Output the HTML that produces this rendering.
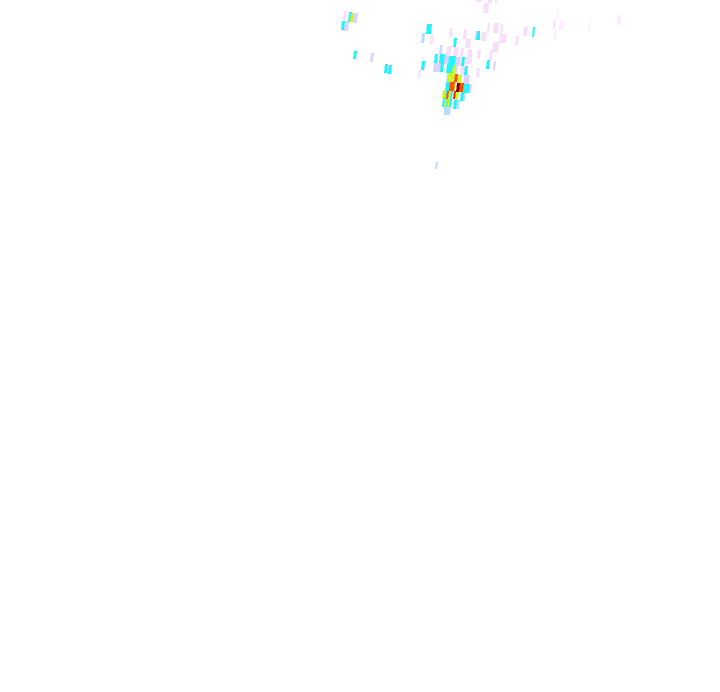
<!DOCTYPE html>
<html>
<head>
<meta charset="utf-8">
<style>
html,body{margin:0;padding:0;background:#fff;width:720px;height:692px;overflow:hidden}
svg{display:block}
</style>
</head>
<body>
<svg width="720" height="692" viewBox="0 0 720 692" xmlns="http://www.w3.org/2000/svg" shape-rendering="crispEdges">
<rect width="720" height="692" fill="#fff"/>
<!-- faint pink -->
<path fill="#fcecfd" d="M617 15h4v10h-4zM589 23h2l-1 9h-2zM557 10h2l-1 9h-2zM555 30h2l-1 9h-2zM560 21h4l-1 9h-4z"/>
<!-- pink -->
<path fill="#f9defc" d="M344 11h3l-1 9h-3z
M431 35h3l-1 9h-3zM450 28h3l-1 9h-3zM464 29h3l-1 10h-3zM466 39h5l-1 9h-5z
M447 46h5l-1 9h-5zM454 47h5l-1 9h-5zM461 48h3l-1 9h-3zM468 49h4l-1 15h-4zM478 50h3l-1 9h-3z
M462 57h6l-1 8h-6zM461 66h5l-1 9h-5zM477 68h3l-1 9h-3zM419 70h2l-1 8h-2z
M484 3h5l-1 10h-5zM488 0h4v3h-4zM495 0h2v3h-2zM476 0h6v2h-6z
M488 23h2l-1 9h-2zM494 23h5l-1 10h-5zM501 24h2l-1 11h-2zM500 34h7l-1 9h-7z
M524 27h4l-1 9h-4zM516 36h3l-1 9h-3zM554 20h2l-1 9h-2z
M475 31h2l-1 9h-2zM482 32h5l-1 9h-5zM493 42h6l-1 10h-6zM490 51h3l-1 9h-3zM478 50h3l-1 9h-3zM470 49h2v14h-2z"/>
<!-- lavender -->
<path fill="#dcd2fb" d="M344 21h5l-1 10h-5zM353 13h5l-1 10h-4zM371 53h3l-1 9h-3zM388 65h2l-1 9h-2zM424 61h2l-1 9h-2z
M477 31h2l-1 9h-2zM440 45h3l-1 9h-3zM444 55h5l-1 9h-5zM456 57h5l-1 9h-5zM434 63h7l-1 9h-7zM454 65h4l-1 8h-4z
M447 73h2l-1 9h-2zM464 75h6l-1 9h-6zM469 85h3l-1 8h-3zM494 61h2l-1 9h-2z"/>
<!-- light blue -->
<path fill="#b8deff" d="M422 33h3l-1 10h-3zM463 92h3l-1 9h-3zM457 100h3l-1 9h-3zM444 107h7l-1 8h-6zM436 162h2l-1 7h-2z"/>
<!-- cyan -->
<path fill="#22f4ff" d="M342 21h3l-1 9h-3zM349 12h3l-1 10h-3zM354 51h3l-1 8h-3zM385 64h3l-1 9h-3zM389 65h3l-1 9h-3z
M427 24h5l-1 10h-5zM478 31h2v9h-2zM454 38h3l-1 9h-3zM435 54h3l-1 9h-3zM440 54h5l-1 9h-5zM449 56h7l-1 9h-7zM462 57h3l-1 9h-3z
M441 63h3l-1 9h-3zM447 64h7l-1 9h-7zM465 66h3l-1 9h-3zM422 61h3l-1 9h-3z
M533 27h2l-1 10h-2zM477 31h3l-1 9h-3zM487 60h3l-1 9h-3z
M446 82h4l-1 9h-4zM463 84h7l-1 9h-7zM445 90h2l-1 9h-2zM451 91h2l-1 8h-2zM461 92h3l-1 9h-3zM443 98h2l-1 9h-2zM446 99h2l-1 8h-2zM449 99h3l-1 8h-3zM454 100h3l-1 9h-3z"/>
<!-- yellow -->
<path fill="#ccf52a" d="M351 13h3l-1 9h-3zM453 65h3l-1 8h-3zM448 73h7l-1 9h-7zM458 75h4l-1 8h-4zM454 83h2l-1 8h-2zM443 90h3l-1 8h-3zM449 91h2l-1 8h-2zM456 92h3l-1 8h-3zM445 99h2l-1 8h-2zM448 99h2l-1 8h-2z"/>
<!-- orange -->
<path fill="#ff5200" d="M455 74h3l-1 8h-3zM450 82h5l-1 9h-5zM459 83h5l-1 9h-5zM447 91h2l-1 8h-2z"/>
<!-- red -->
<path fill="#f02000" d="M454 91h2l-1 8h-2z"/>
<!-- dark red -->
<path fill="#800000" d="M457 83h3l-1 9h-3z"/>
</svg>
</body>
</html>
